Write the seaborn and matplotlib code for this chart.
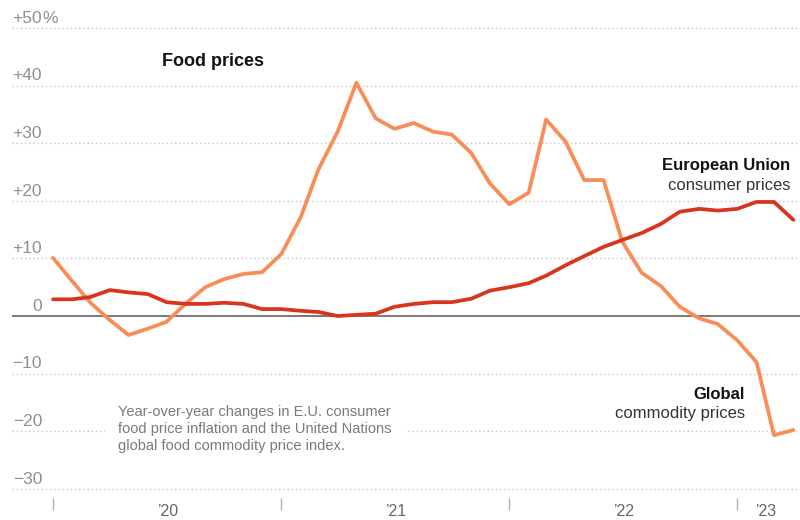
import pandas as pd
import matplotlib.pyplot as plt
import seaborn as sns

# monthly values, Jan 2020 - Apr 2023 (year-over-year change, %)
months = pd.date_range("2020-01-01", periods=40, freq="MS")
global_commodity = [10.1, 6.0, 2.3, -0.7, -3.3, -2.2, -1.0, 2.2, 5.0, 6.4,
                    7.3, 7.6, 10.8, 17.2, 25.4, 32.0, 40.5, 34.3, 32.5, 33.5,
                    32.0, 31.5, 28.3, 23.0, 19.4, 21.4, 34.1, 30.3, 23.6, 23.6,
                    12.9, 7.5, 5.2, 1.6, -0.4, -1.4, -4.2, -8.0, -20.7, -19.8]
eu_consumer = [2.9, 2.9, 3.3, 4.5, 4.1, 3.8, 2.4, 2.1, 2.1, 2.3,
               2.1, 1.2, 1.2, 0.9, 0.7, 0.0, 0.2, 0.4, 1.6, 2.1,
               2.4, 2.4, 3.0, 4.4, 5.0, 5.7, 7.0, 8.8, 10.4, 12.0,
               13.2, 14.4, 16.0, 18.1, 18.6, 18.3, 18.6, 19.8, 19.8, 16.7]

y_ticks = [50, 40, 30, 20, 10, 0, -10, -20, -30]
years = [2020, 2021, 2022, 2023]

ORANGE = "#F98D57"
RED = "#D8351F"

df = pd.concat([
    pd.DataFrame({"month": months, "change": global_commodity, "series": "global"}),
    pd.DataFrame({"month": months, "change": eu_consumer, "series": "eu"}),
])

sns.set_theme(style="white")
plt.rcParams["font.family"] = ["Liberation Sans", "DejaVu Sans"]

fig = plt.figure(figsize=(8, 5.2), dpi=100)
ax = fig.add_axes([12 / 800, 0, 788 / 800, 1])

# pixel scale of the reference: 228 px per year, 5.76 px per point
start = pd.Timestamp("2020-01-01")
px_day = 228 / 365.25
ax.set_xlim(start - pd.Timedelta(days=41 / px_day), start + pd.Timedelta(days=747 / px_day))
ax.set_ylim(-204 / 5.76, 316 / 5.76)

for v in y_ticks:
    if v == 0:
        ax.axhline(0, color="#6e6e6e", lw=1.3, zorder=1)
    else:
        ax.axhline(v, color="#c4c4c4", lw=1, ls=(0, (1, 2)), zorder=1)

sns.lineplot(data=df, x="month", y="change", hue="series",
             palette={"global": ORANGE, "eu": RED}, hue_order=["global", "eu"],
             linewidth=2.7, legend=False, ax=ax, zorder=3)

# y labels, numbers right-aligned, % hanging
ytr = ax.get_yaxis_transform()
lab_x = 30 / 788
for v in y_ticks:
    txt = "0" if v == 0 else (f"+{v}" if v > 0 else f"\u2212{abs(v)}")
    ax.text(lab_x, v + 0.9, txt, transform=ytr, ha="right", va="baseline",
            fontsize=12.5, color="#8f8f8f")
    if v == y_ticks[0]:
        ax.text(lab_x, v + 0.9, "%", transform=ytr, ha="left", va="baseline",
                fontsize=12.5, color="#8f8f8f")

# year ticks and labels
last = months[-1]
for yr in years:
    y0 = pd.Timestamp(f"{yr}-01-01")
    y1 = min(pd.Timestamp(f"{yr + 1}-01-01"), last)
    ax.vlines(y0, -31.6, -33.6, color="#b0b0b0", lw=1)
    ax.text(y0 + (y1 - y0) / 2, -34.0, f"\u2019{str(yr)[2:]}", ha="center", va="center",
            fontsize=11.5, color="#666666")

ax.text((162 - 12) / 788, 44.1, "Food prices", transform=ytr, ha="left", va="center",
        fontsize=13, fontweight="bold", color="#121212")

ax.text((790 - 12) / 788, 26.2, "European Union", transform=ytr, ha="right", va="center",
        fontsize=12, fontweight="bold", color="#121212")
ax.text((790 - 12) / 788, 22.7, "consumer prices", transform=ytr, ha="right", va="center",
        fontsize=12, color="#333333")

ax.text((745 - 12) / 788, -13.7, "Global", transform=ytr, ha="right", va="center",
        fontsize=12, fontweight="bold", color="#121212")
ax.text((745 - 12) / 788, -17.0, "commodity prices", transform=ytr, ha="right", va="center",
        fontsize=12, color="#333333")

ax.text((118 - 12) / 788, -15.4,
        "Year-over-year changes in E.U. consumer\n"
        "food price inflation and the United Nations\n"
        "global food commodity price index.",
        transform=ytr, ha="left", va="top", fontsize=10.5, color="#7a7a7a",
        linespacing=1.3, zorder=2,
        bbox=dict(boxstyle="square,pad=0.9", fc="white", ec="none"))

ax.axis("off")
fig.savefig("out.png", dpi=100)
